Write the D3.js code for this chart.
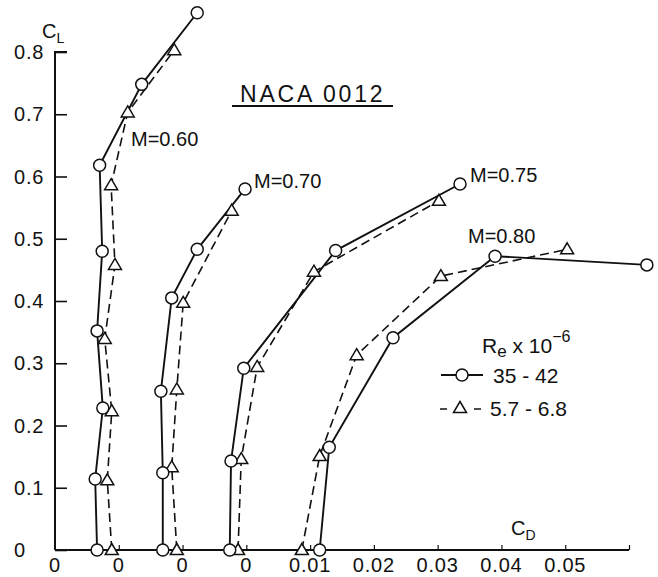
<!DOCTYPE html>
<html><head><meta charset="utf-8">
<script src="https://cdn.jsdelivr.net/npm/d3@7"></script>
<style>
body{margin:0;background:#fff;}
svg{display:block;font-family:"Liberation Sans",Arial,sans-serif;}
</style></head>
<body>
<svg id="c" width="658" height="577"></svg>
<script>
// ---- data ----
const machLabels = ["M=0.60","M=0.70","M=0.75","M=0.80"];
const cdOffsets = [0, 0.01, 0.02, 0.03];
// high Re (35-42 x10^6), circles, solid
const clHigh = [
  [0, 0.114, 0.228, 0.352, 0.480, 0.618, 0.748, 0.863],
  [0, 0.124, 0.255, 0.405, 0.483, 0.580],
  [0, 0.143, 0.292, 0.481, 0.588],
  [0, 0.165, 0.341, 0.472, 0.458]
];
const cdHigh = [
  [0.0066, 0.0063, 0.0075, 0.0066, 0.0074, 0.0070, 0.0136, 0.0223],
  [0.0069, 0.0069, 0.0066, 0.0083, 0.0123, 0.0198],
  [0.0074, 0.0076, 0.0096, 0.0240, 0.0435],
  [0.0115, 0.0130, 0.0230, 0.0390, 0.0628]
];
// low Re (5.7-6.8 x10^6), triangles, dashed
const clLow = [
  [0, 0.112, 0.223, 0.339, 0.458, 0.586, 0.703, 0.803],
  [0, 0.133, 0.258, 0.397, 0.545],
  [0, 0.146, 0.294, 0.447, 0.561],
  [0, 0.151, 0.313, 0.440, 0.483]
];
const cdLow = [
  [0.0089, 0.0082, 0.0089, 0.0078, 0.0094, 0.0088, 0.0114, 0.0187],
  [0.0091, 0.0083, 0.0091, 0.0101, 0.0177],
  [0.0087, 0.0092, 0.0117, 0.0206, 0.0402],
  [0.0087, 0.0115, 0.0173, 0.0305, 0.0503]
];
const yTicks = [0, 0.1, 0.2, 0.3, 0.4, 0.5, 0.6, 0.7, 0.8];
const yTickLabels = ["0","0.1","0.2","0.3","0.4","0.5","0.6","0.7","0.8"];
const xTicks = [0, 0.01, 0.02, 0.03, 0.04, 0.05, 0.06, 0.07, 0.08, 0.09];
const xTickLabels = ["0","0","0","0","0.01","0.02","0.03","0.04","0.05",""];
const legendLabels = ["35 - 42", "5.7 - 6.8"];

// ---- chart ----
const svg = d3.select("#c");
const x = d3.scaleLinear().domain([0, 0.09]).range([55, 629]);
const y = d3.scaleLinear().domain([0, 0.8]).range([550, 52]);
const ink = "#111";

// axes
const yAxis = d3.axisRight(y).tickValues(yTicks).tickSize(12).tickFormat("");
const gy = svg.append("g").attr("transform", `translate(${x(0)},0)`).call(yAxis);
gy.select(".domain").attr("d", `M12,${y(0.8)}H0V${y(0)}`).attr("stroke", ink).attr("stroke-width", 2);
gy.selectAll(".tick line").attr("stroke", ink).attr("stroke-width", 1.6);

const xAxis = d3.axisTop(x).tickValues(xTicks.slice(1)).tickSize(5).tickFormat("");
const gx = svg.append("g").attr("transform", `translate(0,${y(0)})`).call(xAxis);
gx.select(".domain").attr("d", `M${x(0)},0H${x(0.09)}`).attr("stroke", ink).attr("stroke-width", 2);
gx.selectAll(".tick line").attr("stroke", ink).attr("stroke-width", 1.2);

// y tick labels
svg.append("g").selectAll("text").data(yTicks).join("text")
  .attr("x", 14).attr("y", d => y(d) + 7)
  .attr("font-size", 20).attr("letter-spacing", 0.8).attr("fill", ink)
  .text((d, i) => yTickLabels[i]);
// x tick labels
svg.append("g").selectAll("text").data(xTicks).join("text")
  .attr("x", d => x(d)).attr("y", 572).attr("text-anchor", "middle")
  .attr("font-size", 20).attr("letter-spacing", 0.8).attr("fill", ink)
  .text((d, i) => xTickLabels[i]);

// axis titles
const cl = svg.append("text").attr("x", 42).attr("y", 38).attr("font-size", 20).attr("fill", ink);
cl.append("tspan").text("C");
cl.append("tspan").attr("font-size", 14).attr("dy", 5).text("L");
const cd = svg.append("text").attr("x", 511).attr("y", 535).attr("font-size", 20).attr("fill", ink);
cd.append("tspan").text("C");
cd.append("tspan").attr("font-size", 14).attr("dy", 5).text("D");

// curves
const line = d3.line();
const triPath = "M0,-6.5L6.5,4.5L-6.5,4.5Z";
function pts(cls, cds, k) { return cls.map((c, i) => [x(cds[i] + cdOffsets[k]), y(c)]); }

for (let k = 0; k < 4; k++) {
  const pl = pts(clLow[k], cdLow[k], k);
  const ph = pts(clHigh[k], cdHigh[k], k);
  svg.append("path").attr("d", line(pl)).attr("fill", "none").attr("stroke", ink)
    .attr("stroke-width", 1.6).attr("stroke-dasharray", "9,5");
  svg.append("path").attr("d", line(ph)).attr("fill", "none").attr("stroke", ink)
    .attr("stroke-width", 1.9);
  svg.append("g").selectAll("path").data(pl).join("path")
    .attr("transform", d => `translate(${d[0]},${d[1]})`).attr("d", triPath)
    .attr("fill", "#fff").attr("stroke", ink).attr("stroke-width", 1.5);
  svg.append("g").selectAll("circle").data(ph).join("circle")
    .attr("cx", d => d[0]).attr("cy", d => d[1]).attr("r", 6)
    .attr("fill", "#fff").attr("stroke", ink).attr("stroke-width", 1.5);
}

// Mach labels
const machPos = [[131,146],[254,188],[470,182],[468,243]];
svg.append("g").selectAll("text").data(machLabels).join("text")
  .attr("x", (d, i) => machPos[i][0]).attr("y", (d, i) => machPos[i][1])
  .attr("font-size", 20).attr("fill", ink).text(d => d);

// title
svg.append("text").attr("x", 240).attr("y", 102).attr("font-size", 23)
  .attr("letter-spacing", 2.8).attr("fill", ink).text("NACA 0012");
svg.append("line").attr("x1", 232).attr("x2", 393).attr("y1", 106).attr("y2", 106)
  .attr("stroke", ink).attr("stroke-width", 1.8);

// legend
const lt = svg.append("text").attr("x", 482).attr("y", 353).attr("font-size", 21).attr("fill", ink);
lt.append("tspan").text("R");
lt.append("tspan").attr("font-size", 17).attr("dy", 4).text("e");
lt.append("tspan").attr("dy", -4).text(" x 10");
lt.append("tspan").attr("font-size", 16).attr("dy", -11).text("−6");

svg.append("line").attr("x1", 441).attr("x2", 483).attr("y1", 375).attr("y2", 375)
  .attr("stroke", ink).attr("stroke-width", 1.9);
svg.append("circle").attr("cx", 462).attr("cy", 375).attr("r", 6)
  .attr("fill", "#fff").attr("stroke", ink).attr("stroke-width", 1.5);
svg.append("line").attr("x1", 440).attr("x2", 481).attr("y1", 409).attr("y2", 409)
  .attr("stroke", ink).attr("stroke-width", 1.6).attr("stroke-dasharray", "7,27");
svg.append("path").attr("transform", "translate(460,408)").attr("d", triPath)
  .attr("fill", "#fff").attr("stroke", ink).attr("stroke-width", 1.5);
svg.append("g").selectAll("text").data(legendLabels).join("text")
  .attr("x", (d, i) => i === 0 ? 493 : 490).attr("y", (d, i) => i === 0 ? 383 : 416)
  .attr("font-size", 21).attr("fill", ink).text(d => d);
</script>
</body></html>
